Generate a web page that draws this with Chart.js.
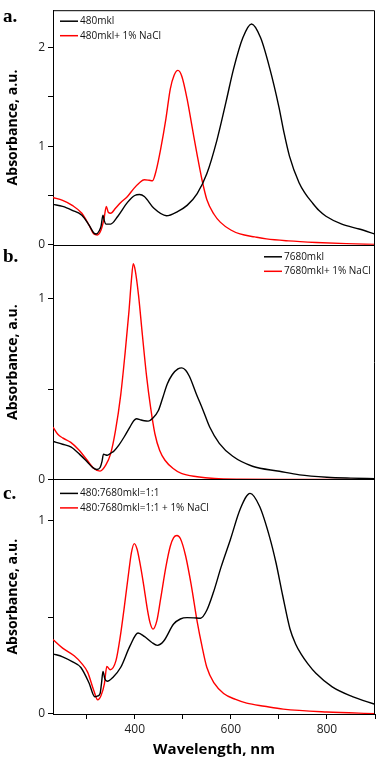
<!DOCTYPE html>
<html lang="en">
<head>
  <meta charset="UTF-8">
  <title>Absorbance spectra</title>
  <style>
    body {
      margin: 0;
      padding: 0;
      background: #fff;
    }
    .chart-box {
      position: relative;
      width: 378px;
      height: 761px;
    }
  </style>
</head>
<body>
  <div class="chart-box">
    <canvas id="specChart"></canvas>
  </div>

  <script src="https://cdn.jsdelivr.net/npm/chart.js"></script>
  <script>
    // Panel a: 480mkl
    const nmA1 = [230, 250, 270, 290, 305, 315, 320, 326, 330, 334, 337, 340, 350, 365, 385, 400, 410, 420, 440, 466, 490, 509, 530, 550, 571, 590, 606, 625, 643, 662, 681, 700, 711, 722, 742, 755, 769, 783, 798, 831, 867, 900];
    const absA1 = [0.41, 0.39, 0.35, 0.30, 0.20, 0.12, 0.11, 0.14, 0.19, 0.30, 0.24, 0.21, 0.21, 0.29, 0.43, 0.50, 0.51, 0.49, 0.37, 0.295, 0.34, 0.40, 0.52, 0.72, 1.06, 1.45, 1.79, 2.10, 2.24, 2.10, 1.79, 1.40, 1.13, 0.90, 0.63, 0.52, 0.43, 0.35, 0.29, 0.21, 0.16, 0.11];
    const nmA2 = [230, 250, 270, 290, 305, 315, 322, 330, 336, 341, 345, 350, 360, 371, 385, 398, 410, 420, 430, 437, 445, 454, 465, 474, 482, 490, 498, 509, 520, 530, 540, 550, 565, 578, 600, 619, 650, 674, 720, 778, 840, 900];
    const absA2 = [0.48, 0.45, 0.40, 0.32, 0.20, 0.11, 0.10, 0.15, 0.26, 0.39, 0.33, 0.32, 0.37, 0.43, 0.49, 0.57, 0.63, 0.66, 0.655, 0.65, 0.76, 0.97, 1.28, 1.58, 1.72, 1.77, 1.71, 1.48, 1.18, 0.91, 0.66, 0.46, 0.31, 0.23, 0.15, 0.11, 0.08, 0.06, 0.04, 0.024, 0.012, 0.003];

    // Panel b: 7680mkl
    const nmB1 = [230, 250, 267, 285, 300, 313, 321, 328, 332, 335, 340, 343, 350, 357, 367, 378, 390, 398, 404, 412, 420, 428, 438, 449, 458, 468, 478, 490, 498, 506, 514, 528, 542, 556, 576, 604, 645, 701, 743, 800, 850, 900];
    const absB1 = [0.21, 0.195, 0.18, 0.14, 0.10, 0.065, 0.055, 0.066, 0.10, 0.14, 0.135, 0.134, 0.145, 0.158, 0.19, 0.235, 0.29, 0.325, 0.336, 0.33, 0.325, 0.323, 0.34, 0.38, 0.45, 0.53, 0.58, 0.612, 0.618, 0.605, 0.57, 0.475, 0.385, 0.29, 0.20, 0.128, 0.073, 0.045, 0.025, 0.012, 0.007, 0.004];
    const nmB2 = [230, 240, 250, 267, 285, 300, 315, 328, 340, 350, 360, 371, 380, 388, 393, 397, 401, 408, 416, 425, 433, 442, 452, 463, 480, 497, 530, 566, 620, 700, 800, 900];
    const absB2 = [0.29, 0.25, 0.23, 0.205, 0.16, 0.11, 0.06, 0.046, 0.08, 0.143, 0.27, 0.47, 0.70, 0.93, 1.10, 1.195, 1.16, 1.02, 0.80, 0.565, 0.40, 0.253, 0.16, 0.106, 0.06, 0.033, 0.015, 0.005, 0.001, 0, 0, 0];

    // Panel c: 480:7680mkl = 1:1
    const nmC1 = [230, 250, 270, 288, 305, 317, 322, 328, 331, 334, 338, 343, 355, 371, 390, 407, 420, 435, 447, 460, 481, 495, 509, 523, 537, 550, 564, 580, 599, 620, 640, 660, 681, 694, 708, 723, 735, 746, 760, 777, 811, 853, 900];
    const absC1 = [0.31, 0.295, 0.27, 0.24, 0.16, 0.089, 0.092, 0.106, 0.16, 0.22, 0.18, 0.169, 0.19, 0.241, 0.35, 0.418, 0.40, 0.37, 0.354, 0.375, 0.464, 0.49, 0.497, 0.496, 0.494, 0.535, 0.629, 0.76, 0.899, 1.06, 1.138, 1.07, 0.91, 0.78, 0.61, 0.44, 0.36, 0.31, 0.26, 0.21, 0.14, 0.09, 0.05];
    const nmC2 = [230, 250, 274, 290, 302, 315, 323, 330, 337, 342, 349, 361, 370, 378, 388, 393, 399, 405, 412, 419, 426, 432, 438, 446, 454, 465, 474, 481, 488, 495, 506, 518, 530, 540, 550, 565, 585, 610, 633, 670, 709, 800, 900];
    const absC2 = [0.384, 0.34, 0.30, 0.26, 0.216, 0.12, 0.073, 0.095, 0.157, 0.245, 0.228, 0.275, 0.40, 0.545, 0.74, 0.83, 0.879, 0.85, 0.764, 0.66, 0.545, 0.47, 0.438, 0.48, 0.595, 0.76, 0.865, 0.91, 0.921, 0.905, 0.815, 0.66, 0.477, 0.35, 0.241, 0.16, 0.106, 0.075, 0.056, 0.04, 0.025, 0.01, 0.002];

    const seriesLabels = ['480mkl', '480mkl+ 1% NaCl', '7680mkl', '7680mkl+ 1% NaCl', '480:7680mkl=1:1', '480:7680mkl=1:1 + 1% NaCl'];
    const panelLetters = ['a.', 'b.', 'c.'];
    const xTickLabels = [400, 600, 800];
    const yTickLabels = [0, 1, 2];

    function pts(xs, ys) {
      return xs.map((x, i) => ({ x: x, y: ys[i] }));
    }

    function makeSet(label, xs, ys, color, axis) {
      return {
        label: label,
        data: pts(xs, ys),
        borderColor: color,
        backgroundColor: color,
        borderWidth: 1.4,
        pointRadius: 0,
        tension: 0.4,
        cubicInterpolationMode: 'monotone',
        yAxisID: axis
      };
    }

    function yScale(max) {
      return {
        type: 'linear',
        position: 'left',
        stack: 'panels',
        stackWeight: 1,
        min: 0,
        max: max,
        afterFit: (s) => { s.width = 53; },
        border: { display: true, color: '#000', width: 1 },
        grid: { drawOnChartArea: false, drawTicks: true, tickLength: 5, color: '#000' },
        ticks: {
          stepSize: 0.5,
          includeBounds: false,
          padding: 3,
          color: '#222',
          font: { family: 'Open Sans', size: 12 },
          callback: (v) => yTickLabels.includes(v) ? String(v) : ''
        },
        title: {
          display: true,
          text: 'Absorbance, a.u.',
          color: '#000',
          font: { family: 'Open Sans', size: 14, weight: 'bold' },
          padding: { top: 5, bottom: 4 }
        }
      };
    }

    // frame, panel letters and in-panel legends
    const panelDecor = {
      id: 'panelDecor',
      afterDraw(chart, args, opts) {
        const ctx = chart.ctx;
        const area = chart.chartArea;
        ctx.save();
        ctx.strokeStyle = '#000';
        ctx.lineWidth = 1;
        ctx.beginPath();
        ctx.moveTo(area.left, area.top + 0.5);
        ctx.lineTo(area.right - 0.5, area.top + 0.5);
        ctx.lineTo(area.right - 0.5, area.bottom);
        ctx.stroke();

        opts.panels.forEach((p, i) => {
          const sc = chart.scales[p.axis];
          // zero line / divider
          ctx.strokeStyle = '#000';
          ctx.lineWidth = 1;
          ctx.beginPath();
          ctx.moveTo(area.left, Math.round(sc.bottom) + 0.5);
          ctx.lineTo(area.right, Math.round(sc.bottom) + 0.5);
          ctx.stroke();

          // panel letter
          ctx.fillStyle = '#000';
          ctx.font = 'bold 19px "Liberation Serif"';
          ctx.textAlign = 'left';
          ctx.textBaseline = 'alphabetic';
          ctx.fillText(panelLetters[i], 3, sc.top + p.letterY);

          // legend
          const x0 = p.right ? area.right - p.legendX : area.left + p.legendX;
          ctx.font = '10px "Open Sans"';
          ctx.textBaseline = 'middle';
          p.sets.forEach((di, k) => {
            const ds = chart.data.datasets[di];
            const y = sc.top + p.legendY + k * 14.5;
            ctx.strokeStyle = ds.borderColor;
            ctx.lineWidth = 1.5;
            ctx.beginPath();
            ctx.moveTo(x0, y);
            ctx.lineTo(x0 + 18, y);
            ctx.stroke();
            ctx.fillStyle = '#111';
            ctx.fillText(ds.label, x0 + 20, y);
          });
        });
        ctx.restore();
      }
    };

    const ctx = document.getElementById('specChart').getContext('2d');
    const specChart = new Chart(ctx, {
      type: 'line',
      data: {
        datasets: [
          makeSet(seriesLabels[0], nmA1, absA1, '#000000', 'yA'),
          makeSet(seriesLabels[1], nmA2, absA2, '#ff0000', 'yA'),
          makeSet(seriesLabels[2], nmB1, absB1, '#000000', 'yB'),
          makeSet(seriesLabels[3], nmB2, absB2, '#ff0000', 'yB'),
          makeSet(seriesLabels[4], nmC1, absC1, '#000000', 'yC'),
          makeSet(seriesLabels[5], nmC2, absC2, '#ff0000', 'yC')
        ]
      },
      options: {
        responsive: true,
        maintainAspectRatio: false,
        animation: false,
        layout: { padding: { top: 3, right: 2, left: 0, bottom: 0 } },
        plugins: {
          legend: { display: false },
          tooltip: { enabled: false },
          panelDecor: {
            panels: [
              { axis: 'yA', sets: [0, 1], legendX: 7, legendY: 11, right: false, letterY: 12 },
              { axis: 'yB', sets: [2, 3], legendX: 111, legendY: 12, right: true, letterY: 17 },
              { axis: 'yC', sets: [4, 5], legendX: 7, legendY: 14, right: false, letterY: 20 }
            ]
          }
        },
        scales: {
          x: {
            type: 'linear',
            min: 230,
            max: 900,
            afterFit: (s) => { s.height = 47; },
            border: { display: true, color: '#000', width: 1 },
            grid: { drawOnChartArea: false, drawTicks: true, tickLength: 5, color: '#000' },
            ticks: {
              stepSize: 100,
              includeBounds: false,
              maxRotation: 0,
              autoSkip: false,
              padding: 3,
              color: '#222',
              font: { family: 'Open Sans', size: 12 },
              callback: (v) => xTickLabels.includes(v) ? String(v) : ''
            },
            title: {
              display: true,
              text: 'Wavelength, nm',
              color: '#000',
              font: { family: 'Open Sans', size: 15, weight: 'bold' },
              padding: { top: 4, bottom: 2 }
            }
          },
          // stacked axes are placed bottom-up in declaration order
          yC: yScale(1.21),
          yB: yScale(1.3),
          yA: yScale(2.38)
        }
      },
      plugins: [panelDecor]
    });
  </script>
</body>
</html>
